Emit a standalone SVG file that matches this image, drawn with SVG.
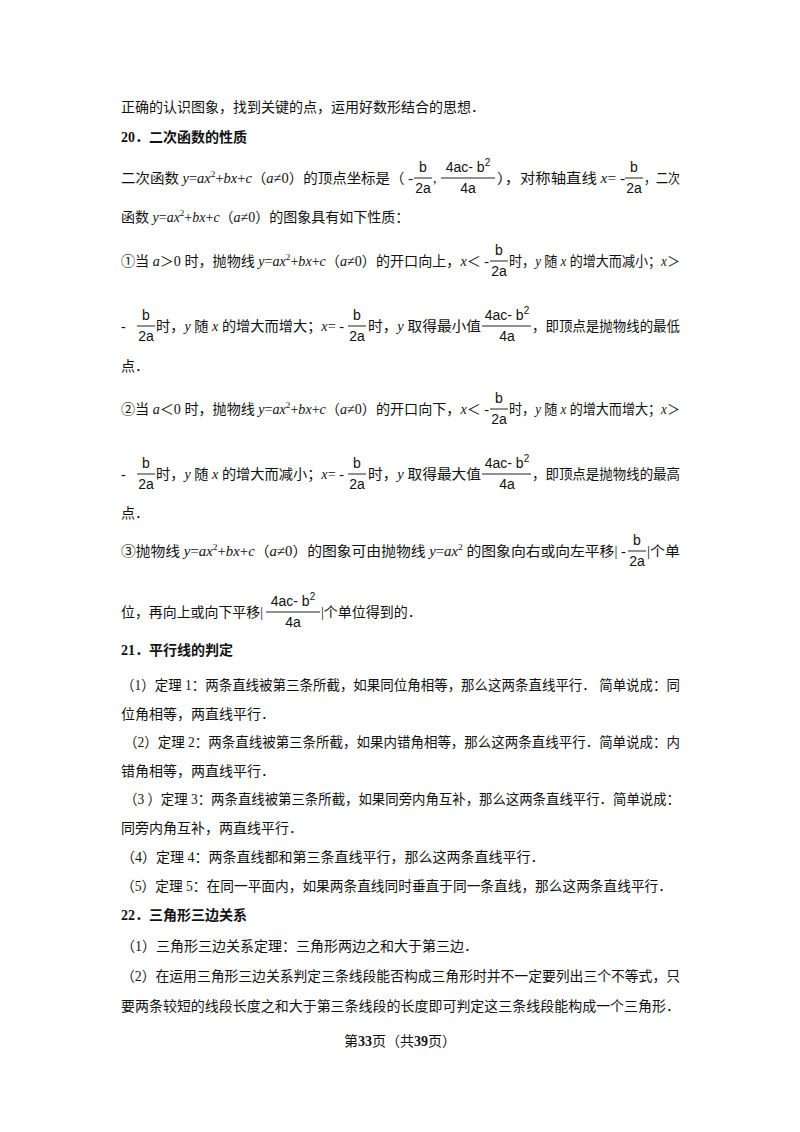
<svg xmlns="http://www.w3.org/2000/svg" width="800" height="1132" viewBox="0 0 800 1132">
<style>
text{font-family:"Liberation Serif","Noto Sans CJK SC",serif;font-size:14px;fill:#111}
.b{font-weight:bold}
.i{font-style:italic}
.f{font-family:"Liberation Sans",sans-serif;font-size:14px;text-anchor:middle}
.s{font-size:9px}
line{stroke:#222;stroke-width:1}
</style>
<rect width="800" height="1132" fill="#fff"/>
<g id="text">
<text x="121" y="112">正确的认识图象，找到关键的点，运用好数形结合的思想．</text>
<text x="121" y="142" class="b">20．二次函数的性质</text>

<text x="121" y="183" textLength="292" lengthAdjust="spacingAndGlyphs">二次函数 <tspan class="i">y</tspan>=<tspan class="i">ax</tspan><tspan class="s" dy="-6">2</tspan><tspan dy="6">+</tspan><tspan class="i">bx</tspan>+<tspan class="i">c</tspan>（<tspan class="i">a</tspan>≠0）的顶点坐标是（ -</text>
<text class="f" x="423" y="172">b</text><line x1="414" y1="178" x2="432" y2="178"/><text class="f" x="423" y="193">2a</text>
<text x="433" y="183">,</text>
<text class="f" x="468" y="172">4ac- b<tspan font-size="10" dy="-6">2</tspan></text><line x1="441" y1="178" x2="495" y2="178"/><text class="f" x="468" y="193">4a</text>
<text x="497" y="183" textLength="128" lengthAdjust="spacingAndGlyphs">），对称轴直线 <tspan class="i">x</tspan>= -</text>
<text class="f" x="634" y="172">b</text><line x1="625" y1="178" x2="643" y2="178"/><text class="f" x="634" y="193">2a</text>
<text x="644" y="183" textLength="36" lengthAdjust="spacingAndGlyphs">，二次</text>

<text x="121" y="222">函数 <tspan class="i">y</tspan>=<tspan class="i">ax</tspan><tspan class="s" dy="-6">2</tspan><tspan dy="6">+</tspan><tspan class="i">bx</tspan>+<tspan class="i">c</tspan>（<tspan class="i">a</tspan>≠0）的图象具有如下性质：</text>

<text x="121" y="266" textLength="368" lengthAdjust="spacingAndGlyphs">①当 <tspan class="i">a</tspan>＞0 时，抛物线 <tspan class="i">y</tspan>=<tspan class="i">ax</tspan><tspan class="s" dy="-6">2</tspan><tspan dy="6">+</tspan><tspan class="i">bx</tspan>+<tspan class="i">c</tspan>（<tspan class="i">a</tspan>≠0）的开口向上，<tspan class="i">x</tspan>＜ -</text>
<text class="f" x="499" y="255">b</text><line x1="490" y1="261" x2="508" y2="261"/><text class="f" x="499" y="276">2a</text>
<text x="509" y="266" textLength="171" lengthAdjust="spacingAndGlyphs">时，<tspan class="i">y</tspan> 随 <tspan class="i">x</tspan> 的增大而减小；<tspan class="i">x</tspan>＞</text>

<text x="121" y="331">-</text>
<text class="f" x="146" y="320">b</text><line x1="137" y1="326" x2="155" y2="326"/><text class="f" x="146" y="341">2a</text>
<text x="156" y="331" textLength="188" lengthAdjust="spacingAndGlyphs">时，<tspan class="i">y</tspan> 随 <tspan class="i">x</tspan> 的增大而增大；<tspan class="i">x</tspan>= -</text>
<text class="f" x="357" y="320">b</text><line x1="348" y1="326" x2="366" y2="326"/><text class="f" x="357" y="341">2a</text>
<text x="368" y="331" textLength="113" lengthAdjust="spacingAndGlyphs">时，<tspan class="i">y</tspan> 取得最小值</text>
<text class="f" x="507" y="320">4ac- b<tspan font-size="10" dy="-6">2</tspan></text><line x1="482" y1="326" x2="531" y2="326"/><text class="f" x="507" y="341">4a</text>
<text x="532" y="331" textLength="148" lengthAdjust="spacingAndGlyphs">，即顶点是抛物线的最低</text>
<text x="121" y="371">点．</text>

<text x="121" y="414" textLength="368" lengthAdjust="spacingAndGlyphs">②当 <tspan class="i">a</tspan>＜0 时，抛物线 <tspan class="i">y</tspan>=<tspan class="i">ax</tspan><tspan class="s" dy="-6">2</tspan><tspan dy="6">+</tspan><tspan class="i">bx</tspan>+<tspan class="i">c</tspan>（<tspan class="i">a</tspan>≠0）的开口向下，<tspan class="i">x</tspan>＜ -</text>
<text class="f" x="499" y="403">b</text><line x1="490" y1="409" x2="508" y2="409"/><text class="f" x="499" y="424">2a</text>
<text x="509" y="414" textLength="171" lengthAdjust="spacingAndGlyphs">时，<tspan class="i">y</tspan> 随 <tspan class="i">x</tspan> 的增大而增大；<tspan class="i">x</tspan>＞</text>

<text x="121" y="479">-</text>
<text class="f" x="146" y="468">b</text><line x1="137" y1="474" x2="155" y2="474"/><text class="f" x="146" y="489">2a</text>
<text x="156" y="479" textLength="188" lengthAdjust="spacingAndGlyphs">时，<tspan class="i">y</tspan> 随 <tspan class="i">x</tspan> 的增大而减小；<tspan class="i">x</tspan>= -</text>
<text class="f" x="357" y="468">b</text><line x1="348" y1="474" x2="366" y2="474"/><text class="f" x="357" y="489">2a</text>
<text x="368" y="479" textLength="113" lengthAdjust="spacingAndGlyphs">时，<tspan class="i">y</tspan> 取得最大值</text>
<text class="f" x="507" y="468">4ac- b<tspan font-size="10" dy="-6">2</tspan></text><line x1="482" y1="474" x2="531" y2="474"/><text class="f" x="507" y="489">4a</text>
<text x="532" y="479" textLength="148" lengthAdjust="spacingAndGlyphs">，即顶点是抛物线的最高</text>
<text x="121" y="518">点．</text>

<text x="121" y="556" textLength="505" lengthAdjust="spacingAndGlyphs">③抛物线 <tspan class="i">y</tspan>=<tspan class="i">ax</tspan><tspan class="s" dy="-6">2</tspan><tspan dy="6">+</tspan><tspan class="i">bx</tspan>+<tspan class="i">c</tspan>（<tspan class="i">a</tspan>≠0）的图象可由抛物线 <tspan class="i">y</tspan>=<tspan class="i">ax</tspan><tspan class="s" dy="-6">2</tspan><tspan dy="6"> 的图象向右或向左平移| -</tspan></text>
<text class="f" x="637" y="545">b</text><line x1="628" y1="551" x2="646" y2="551"/><text class="f" x="637" y="566">2a</text>
<text x="647" y="556" textLength="33" lengthAdjust="spacingAndGlyphs">|个单</text>

<text x="121" y="617" textLength="142" lengthAdjust="spacingAndGlyphs">位，再向上或向下平移|</text>
<text class="f" x="293" y="606">4ac- b<tspan font-size="10" dy="-6">2</tspan></text><line x1="266" y1="612" x2="320" y2="612"/><text class="f" x="293" y="627">4a</text>
<text x="321" y="617">|个单位得到的．</text>

<text x="121" y="655" class="b">21．平行线的判定</text>
<text x="121" y="690" textLength="559" lengthAdjust="spacingAndGlyphs">（1）定理 1：两条直线被第三条所截，如果同位角相等，那么这两条直线平行．  简单说成：同</text>
<text x="121" y="719">位角相等，两直线平行．</text>
<text x="124" y="747" textLength="556" lengthAdjust="spacingAndGlyphs">（2）定理 2：两条直线被第三条所截，如果内错角相等，那么这两条直线平行．简单说成：内</text>
<text x="121" y="776">错角相等，两直线平行．</text>
<text x="124" y="804" textLength="556" lengthAdjust="spacingAndGlyphs">（3 ）定理 3：两条直线被第三条所截，如果同旁内角互补，那么这两条直线平行．简单说成：</text>
<text x="121" y="833">同旁内角互补，两直线平行．</text>
<text x="121" y="862">（4）定理 4：两条直线都和第三条直线平行，那么这两条直线平行．</text>
<text x="121" y="891" textLength="551" lengthAdjust="spacingAndGlyphs">（5）定理 5：在同一平面内，如果两条直线同时垂直于同一条直线，那么这两条直线平行．</text>

<text x="121" y="920" class="b">22．三角形三边关系</text>
<text x="121" y="951">（1）三角形三边关系定理：三角形两边之和大于第三边．</text>
<text x="121" y="981" textLength="559" lengthAdjust="spacingAndGlyphs">（2）在运用三角形三边关系判定三条线段能否构成三角形时并不一定要列出三个不等式，只</text>
<text x="121" y="1011" textLength="559" lengthAdjust="spacingAndGlyphs">要两条较短的线段长度之和大于第三条线段的长度即可判定这三条线段能构成一个三角形．</text>

<text x="400" y="1046" text-anchor="middle" font-size="12">第<tspan class="b" font-size="14">33</tspan>页（共<tspan class="b" font-size="14">39</tspan>页）</text>
</g>
</svg>
